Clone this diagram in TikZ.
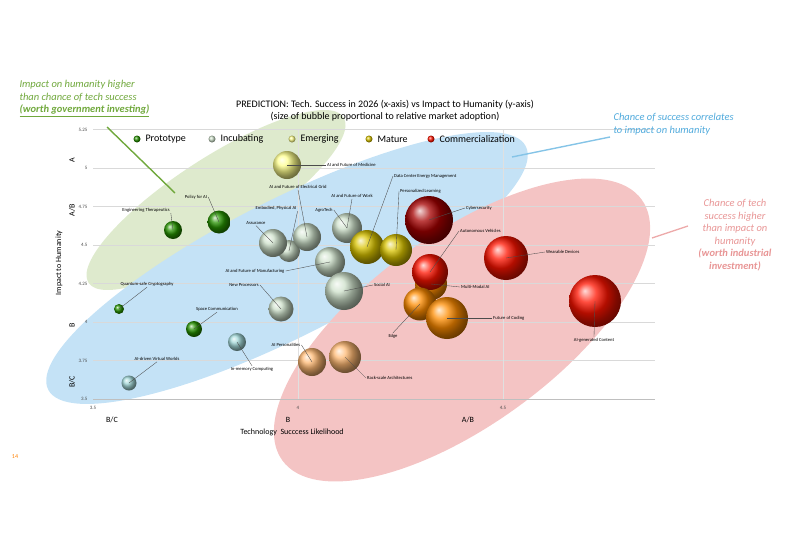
\documentclass[tikz,border=0pt]{standalone}
\usepackage{fontspec}
\setmainfont{Carlito}
\begin{document}
\begin{tikzpicture}[x=1pt,y=-1pt,
 lab/.style={font=\fontsize{4.6}{5}\selectfont, inner sep=1pt},
 lead/.style={draw=black!70, line width=0.35pt},
 b/.style={circle, inner sep=0, minimum size=#1},
 proto/.style={b=#1, ball color=green!50!black!85!yellow},
 incub/.style={b=#1, ball color=yellow!15!green!10!white!88!black},
 emerg/.style={b=#1, ball color=yellow!45!white},
 mature/.style={b=#1, ball color=yellow!80!orange!85!black},
 comm/.style={b=#1, ball color=red!85!orange},
 orng/.style={b=#1, ball color=orange!90!yellow},
 lorng/.style={b=#1, ball color=orange!55!white},
 teal/.style={b=#1, ball color=cyan!25!white!85!black},
 tick/.style={font=\fontsize{5}{6}\selectfont, text=black!70},
 grade/.style={font=\fontsize{8}{9}\selectfont},
 legt/.style={anchor=west, font=\fontsize{10}{11}\selectfont},
 note/.style={font=\fontsize{10.5}{12.5}\selectfont\itshape}]
\useasboundingbox (0,0) rectangle (800,533);
\definecolor{gfill}{RGB}{222,234,205}
\definecolor{bfill}{RGB}{196,226,246}
\definecolor{rfill}{RGB}{244,196,196}
\definecolor{gtxt}{RGB}{112,168,60}
\definecolor{btxt}{RGB}{80,170,220}
\definecolor{rtxt}{RGB}{232,150,150}
% ellipses
\fill[gfill] (216,200) ellipse[x radius=152, y radius=42, rotate=33];
\fill[bfill] (287,268) ellipse[x radius=268, y radius=68, rotate=27];
\fill[rfill] (462,330) ellipse[x radius=222, y radius=95, rotate=36];
% grid
\foreach \y in {129.5,168,206.5,245,283.5,322,360.5}
  \draw[black!15, line width=0.3pt] (93,\y) -- (655,\y);
\draw[black!25, line width=0.3pt] (93,399) -- (655,399);
\draw[black!12, line width=0.3pt] (298,129.5) -- (298,399) (503,129.5) -- (503,399);
% ticks
\foreach \v/\y in {5.25/129.5,5/168,4.75/206.5,4.5/245,4.25/283.5,4/322,3.75/360.5,3.5/399}
  \node[tick, anchor=east] (t\y) at (91,\y) {\v};
\node[tick] (x1) at (93,408) {3.5};
\node[tick] (x2) at (298,408) {4};
\node[tick] (x3) at (503,408) {4.5};
% axis labels
\node[rotate=90, font=\fontsize{8}{9}\selectfont] (yl) at (59,263) {Impact to Humanity};
\node[grade, rotate=90] (gA) at (72,160) {A};
\node[grade, rotate=90] (gAB) at (72,210) {A/B};
\node[grade, rotate=90] (gB) at (72,325) {B};
\node[grade, rotate=90] (gBC) at (72,382) {B/C};
\node[grade] (xBC) at (112,420) {B/C};
\node[grade] (xB) at (288,420) {B};
\node[grade] (xAB) at (468,420) {A/B};
\node[font=\fontsize{8}{9}\selectfont] (xl) at (292,432) {Technology\ \ Succcess Likelihood};
\node[font=\fontsize{6}{7}\selectfont, text=orange] (pg) at (15,457) {14};
% title
\node[font=\fontsize{10}{12}\selectfont, align=center] (title) at (385,111)
  {PREDICTION: Tech. Success in 2026 (x-axis) vs Impact to Humanity (y-axis)\\(size of bubble proportional to relative market adoption)};
% legend
\node[proto=7pt] (L1) at (137,139) {};
\node[legt] (L1t) at (142,139) {Prototype};
\node[incub=7pt] (L2) at (212,139) {};
\node[legt] (L2t) at (217,139) {Incubating};
\node[emerg=7pt] (L3) at (292,139) {};
\node[legt] (L3t) at (297,139) {Emerging};
\node[mature=7pt] (L4) at (369,139) {};
\node[legt] (L4t) at (374,139) {Mature};
\node[comm=7pt] (L5) at (431,139) {};
\node[legt] (L5t) at (436,139) {Commercialization};
% annotations
\node[note, anchor=north west, align=left, text=gtxt] (ga) at (16,77)
  {Impact on humanity higher\\than chance of tech success\\\textbf{\underline{(worth government investing)}}};
\coordinate (gc) at (175,193);
\draw[gtxt, line width=1.4pt] (107,127) -- (gc);
\node[note, anchor=north west, align=left, text=btxt] (ba) at (610,110)
  {Chance of success correlates\\to impact on humanity};
\coordinate (bc) at (512,157);
\draw[btxt!70, line width=1.4pt] (bc) -- (610,137);
\node[note, anchor=north, align=center, text=rtxt] (ra) at (735,196)
  {Chance of tech\\success higher\\than impact on\\humanity\\\textbf{(worth industrial}\\\textbf{investment)}};
\coordinate (rc) at (652,238);
\draw[rtxt!80, line width=1.4pt] (rc) -- (688,226);
% bubbles
\node[emerg=28pt] (med) at (287,165) {};
\node[proto=18pt] (eng) at (173,230) {};
\node[proto=23pt] (pol) at (219,222) {};
\node[incub=22pt] (asb) at (289,251) {};
\node[incub=28pt] (ass) at (273,243) {};
\node[incub=28pt] (grid) at (307,237) {};
\node[incub=30pt] (agro) at (347,228) {};
\node[mature=34pt] (dc) at (367,247) {};
\node[mature=32pt] (pl) at (396,250) {};
\node[b=48pt, ball color=red!65!black] (cyb) at (429,220) {};
\node[incub=30pt] (man) at (330,262) {};
\node[incub=38pt] (soc) at (344,291) {};
\node[incub=25pt] (np) at (281,309) {};
\node[proto=10pt] (qs) at (119,309) {};
\node[proto=16pt] (sc) at (194,329) {};
\node[teal=18pt] (im) at (237,342) {};
\node[teal=15pt] (vw) at (129,383) {};
\node[lorng=28pt] (per) at (312,362) {};
\node[lorng=32pt] (rack) at (345,357) {};
\node[orng=32pt] (mm) at (431,284) {};
\node[comm=36pt] (av) at (430,272) {};
\node[orng=33pt] (edge) at (420,304) {};
\node[orng=42pt] (code) at (447,318) {};
\node[comm=44pt] (wear) at (506,258) {};
\node[comm=52pt] (aig) at (595,301) {};
% labels
\node[lab, anchor=west] (lmed) at (326,165) {AI and Future of Medicine};
\node[lab] (leng) at (146,210) {Engineering Therapeutics};
\node[lab] (lpol) at (196,197) {Policy for AI};
\node[lab] (lass) at (256,223) {Assurance};
\node[lab] (lemb) at (276,208) {Embodied, Physical AI};
\node[lab] (lgrid) at (298,187) {AI and Future of Electrical Grid};
\node[lab] (lwork) at (352,196) {AI and Future of Work};
\node[lab] (lagro) at (324,210) {AgroTech};
\node[lab, anchor=west] (ldc) at (393,176) {Data Center Energy Management};
\node[lab, anchor=west] (lpl) at (399,191) {Personalized Learning};
\node[lab, anchor=west] (lcyb) at (465,208) {Cybersecurity};
\node[lab] (lman) at (255,271) {AI and Future of Manufacturing};
\node[lab, anchor=west] (lsoc) at (373,285) {Social AI};
\node[lab] (lnp) at (244,285) {New Processors};
\node[lab] (lqs) at (147,284) {Quantum-safe Cryptography};
\node[lab] (lsc) at (217,309) {Space Communication};
\node[lab] (lim) at (252,369) {In-memory Computing};
\node[lab] (lvw) at (157,359) {AI-driven Virtual Worlds};
\node[lab] (lper) at (286,345) {AI Personalities};
\node[lab, anchor=west] (lrack) at (366,378) {Rack-scale Architectures};
\node[lab, anchor=west] (lav) at (459,231) {Autonomous Vehicles};
\node[lab, anchor=west] (lmm) at (460,287) {Multi-Modal AI};
\node[lab, anchor=west] (lcode) at (492,318) {Future of Coding};
\node[lab] (ledge) at (393,336) {Edge};
\node[lab, anchor=west] (lwear) at (545,252) {Wearable Devices};
\node[lab] (laig) at (594,340) {AI-generated Content};
% leaders
\draw[lead] (lmed.west) -- (med.center);
\draw[lead] (leng.south east) -- (eng.center);
\draw[lead] (lpol.east) -- (pol.center);
\draw[lead] (lass.south) -- (ass.center);
\draw[lead] (lemb.south east) -- (asb.center);
\draw[lead] (lgrid.south) -- (grid.center);
\draw[lead] (lwork.south) -- (agro.center);
\draw[lead] (lagro.east) -- (agro.center);
\draw[lead] (ldc.west) -- (dc.center);
\draw[lead] (lpl.west) -- (pl.center);
\draw[lead] (lcyb.west) -- (cyb.center);
\draw[lead] (lman.east) -- (man.center);
\draw[lead] (lsoc.west) -- (soc.center);
\draw[lead] (lnp.east) -- (np.center);
\draw[lead] (lqs.south) -- (qs.center);
\draw[lead] (lsc.south) -- (sc.center);
\draw[lead] (lim.north) -- (im.center);
\draw[lead] (lvw.south) -- (vw.center);
\draw[lead] (lper.east) -- (per.center);
\draw[lead] (lrack.west) -- (rack.center);
\draw[lead] (lav.west) -- (av.center);
\draw[lead] (lmm.west) -- (mm.center);
\draw[lead] (lcode.west) -- (code.center);
\draw[lead] (ledge.north) -- (edge.center);
\draw[lead] (lwear.west) -- (wear.center);
\draw[lead] (laig.north) -- (aig.center);
\end{tikzpicture}
\end{document}
